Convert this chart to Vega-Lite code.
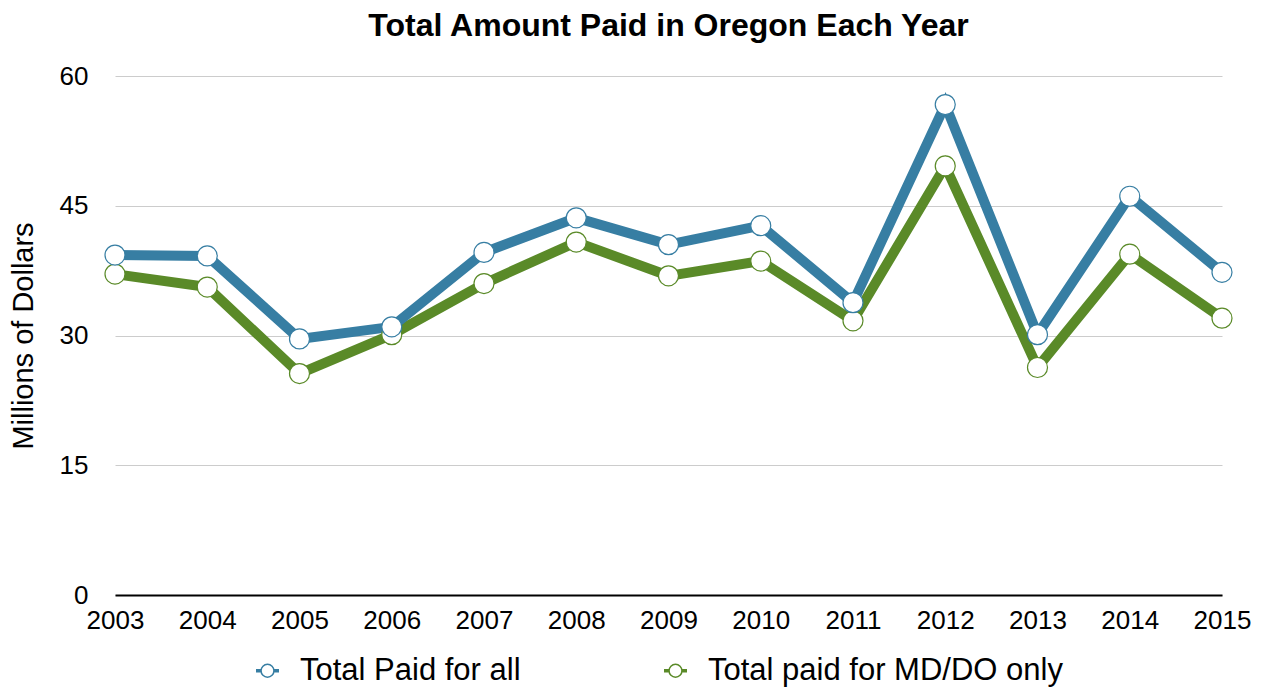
{
  "$schema": "https://vega.github.io/schema/vega-lite/v6.json",
  "autosize": "none",
  "width": 1107,
  "height": 519,
  "padding": {"left": 115, "top": 76, "right": 43, "bottom": 95},
  "background": "white",
  "config": {"view": {"stroke": null}},
  "title": {
    "text": "Total Amount Paid in Oregon Each Year",
    "font": "Liberation Sans",
    "fontSize": 32,
    "fontWeight": "bold",
    "color": "black",
    "anchor": "middle",
    "frame": "group",
    "offset": 20
  },
  "data": {
    "values": [
      {"year": "2003", "series": "Total Paid for all", "value": 39.3},
      {"year": "2004", "series": "Total Paid for all", "value": 39.2},
      {"year": "2005", "series": "Total Paid for all", "value": 29.6},
      {"year": "2006", "series": "Total Paid for all", "value": 31.0},
      {"year": "2007", "series": "Total Paid for all", "value": 39.6},
      {"year": "2008", "series": "Total Paid for all", "value": 43.6},
      {"year": "2009", "series": "Total Paid for all", "value": 40.5},
      {"year": "2010", "series": "Total Paid for all", "value": 42.7},
      {"year": "2011", "series": "Total Paid for all", "value": 33.8},
      {"year": "2012", "series": "Total Paid for all", "value": 56.7},
      {"year": "2013", "series": "Total Paid for all", "value": 30.1},
      {"year": "2014", "series": "Total Paid for all", "value": 46.1},
      {"year": "2015", "series": "Total Paid for all", "value": 37.3},
      {"year": "2003", "series": "Total paid for MD/DO only", "value": 37.1},
      {"year": "2004", "series": "Total paid for MD/DO only", "value": 35.6},
      {"year": "2005", "series": "Total paid for MD/DO only", "value": 25.6},
      {"year": "2006", "series": "Total paid for MD/DO only", "value": 30.1},
      {"year": "2007", "series": "Total paid for MD/DO only", "value": 36.0},
      {"year": "2008", "series": "Total paid for MD/DO only", "value": 40.8},
      {"year": "2009", "series": "Total paid for MD/DO only", "value": 36.9},
      {"year": "2010", "series": "Total paid for MD/DO only", "value": 38.6},
      {"year": "2011", "series": "Total paid for MD/DO only", "value": 31.7},
      {"year": "2012", "series": "Total paid for MD/DO only", "value": 49.6},
      {"year": "2013", "series": "Total paid for MD/DO only", "value": 26.3},
      {"year": "2014", "series": "Total paid for MD/DO only", "value": 39.4},
      {"year": "2015", "series": "Total paid for MD/DO only", "value": 32.0}
    ]
  },
  "encoding": {
    "x": {
      "field": "year",
      "type": "ordinal",
      "scale": {"type": "point", "padding": 0},
      "axis": {
        "title": null,
        "labelAngle": 0,
        "labelFont": "Liberation Sans",
        "labelFontSize": 26,
        "labelColor": "black",
        "labelPadding": 12,
        "ticks": false,
        "domainColor": "black",
        "domainWidth": 2,
        "grid": false
      }
    },
    "y": {
      "field": "value",
      "type": "quantitative",
      "scale": {"domain": [0, 60]},
      "axis": {
        "title": "Millions of Dollars",
        "titleFont": "Liberation Sans",
        "titleFontSize": 29,
        "titleFontWeight": "normal",
        "titleColor": "black",
        "titleX": -92,
        "titleBaseline": "middle",
        "values": [0, 15, 30, 45, 60],
        "labelFont": "Liberation Sans",
        "labelFontSize": 26,
        "labelColor": "black",
        "labelPadding": 27,
        "ticks": false,
        "domain": false,
        "gridColor": "#cccccc",
        "gridWidth": 1
      }
    },
    "color": {
      "field": "series",
      "type": "nominal",
      "scale": {
        "domain": ["Total Paid for all", "Total paid for MD/DO only"],
        "range": ["#377ea3", "#5a8a28"]
      },
      "legend": {
        "title": null,
        "orient": "none",
        "direction": "horizontal",
        "legendX": 137,
        "legendY": 579,
        "labelFont": "Liberation Sans",
        "labelFontSize": 31,
        "labelColor": "black",
        "labelLimit": 0,
        "labelOffset": 17,
        "columnPadding": 139,
        "symbolType": "M -1 -0.08 L -0.56 -0.08 M -1 -0.04 L -0.56 -0.04 M -1 0 L -0.56 0 M -1 0.04 L -0.56 0.04 M -1 0.08 L -0.56 0.08 M 0.56 -0.08 L 1 -0.08 M 0.56 -0.04 L 1 -0.04 M 0.56 0 L 1 0 M 0.56 0.04 L 1 0.04 M 0.56 0.08 L 1 0.08 M 0.56 0 A 0.56 0.56 0 1 1 -0.56 0 A 0.56 0.56 0 1 1 0.56 0 Z",
        "symbolSize": 529,
        "symbolStrokeWidth": 1.5,
        "symbolFillColor": "white"
      }
    }
  },
  "layer": [
    {
      "transform": [{"filter": "datum.series === 'Total paid for MD/DO only'"}],
      "mark": {"type": "line", "strokeWidth": 10, "strokeJoin": "miter"}
    },
    {
      "transform": [{"filter": "datum.series === 'Total Paid for all'"}],
      "mark": {"type": "line", "strokeWidth": 10, "strokeJoin": "miter"}
    },
    {
      "transform": [{"filter": "datum.series === 'Total paid for MD/DO only'"}],
      "mark": {"type": "point", "shape": "circle", "filled": false, "fill": "white", "fillOpacity": 1, "opacity": 1, "size": 400, "strokeWidth": 1.2}
    },
    {
      "transform": [{"filter": "datum.series === 'Total Paid for all'"}],
      "mark": {"type": "point", "shape": "circle", "filled": false, "fill": "white", "fillOpacity": 1, "opacity": 1, "size": 400, "strokeWidth": 1.2}
    }
  ]
}
